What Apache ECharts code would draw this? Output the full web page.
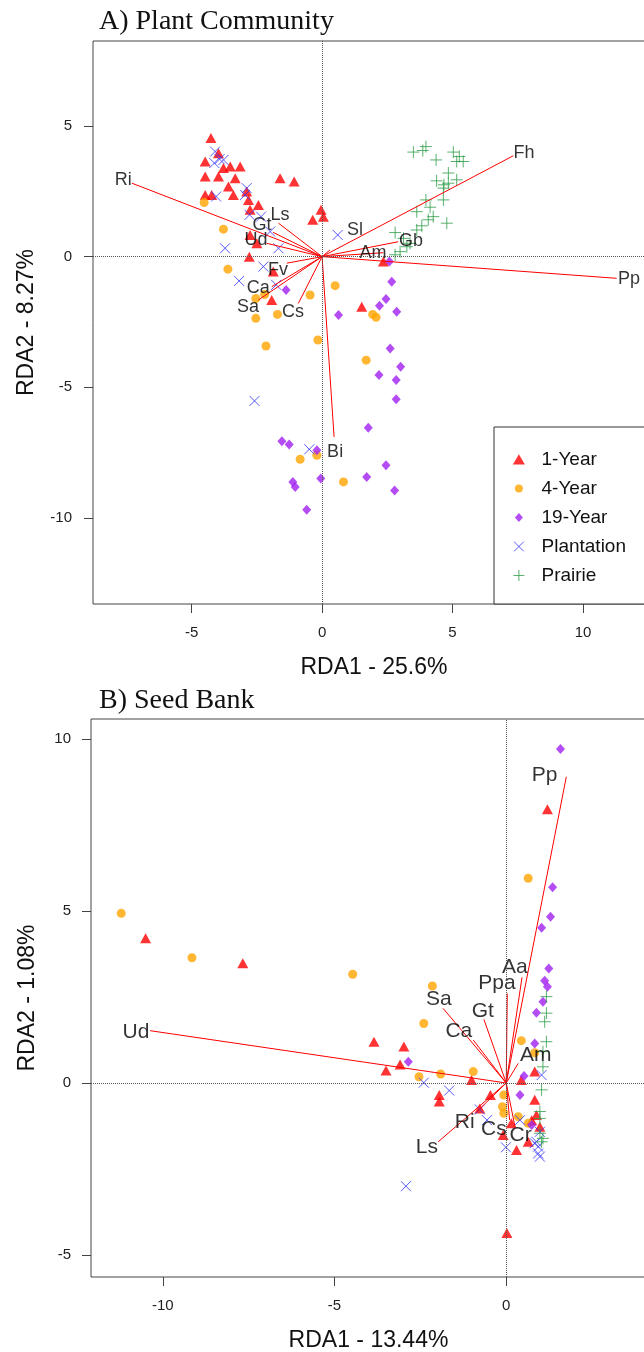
<!DOCTYPE html>
<html><head><meta charset="utf-8">
<script src="https://cdn.jsdelivr.net/npm/echarts@6/dist/echarts.min.js"></script>
<style>html,body{margin:0;padding:0;background:#fff}#c{width:644px;height:1352px}</style>
</head><body><div id="c"></div>
<script>
// ---------- Panel A: Plant Community ----------
const A_year1 = [[-4.26,4.54],[-3.97,3.96],[-4.48,3.64],[-3.78,3.39],[-3.52,3.45],[-3.14,3.45],[-3.97,3.07],[-3.33,3.0],[-4.48,3.07],[-3.59,2.68],[-4.48,2.36],[-4.23,2.36],[-3.4,2.36],[-2.89,2.49],[-2.82,2.17],[-2.44,1.98],[-2.76,1.79],[-1.61,3.0],[-1.07,2.87],[-0.04,1.79],[-0.36,1.41],[0.05,1.53],[-2.76,0.83],[-2.5,0.51],[-2.79,0.0],[-1.87,-0.57],[-1.93,-1.66],[2.35,-0.19],[1.52,-1.92]];
const A_year4 = [[-4.52,2.07],[-3.78,1.05],[-3.61,-0.48],[-2.54,-1.6],[-2.2,-1.45],[-2.54,-2.36],[-1.71,-2.21],[-2.15,-3.42],[-0.16,-3.19],[0.5,-1.11],[-0.46,-1.47],[1.94,-2.21],[2.07,-2.32],[1.69,-3.96],[-0.84,-7.75],[-0.2,-7.6],[0.82,-8.62]];
const A_year19 = [[2.58,-0.19],[2.67,-0.96],[2.45,-1.62],[2.2,-1.88],[2.86,-2.11],[0.63,-2.23],[-1.38,-1.28],[2.61,-3.51],[3.01,-4.21],[2.18,-4.53],[2.84,-4.72],[2.84,-5.46],[1.77,-6.55],[-1.54,-7.06],[-1.26,-7.19],[-0.2,-7.41],[-1.12,-8.62],[-1.03,-8.81],[-0.05,-8.49],[2.45,-7.98],[1.71,-8.43],[2.78,-8.95],[-0.59,-9.68]];
const A_plantation = [[-4.1,4.02],[-3.93,3.73],[-4.13,3.58],[-3.78,3.7],[-4.06,2.3],[-2.89,2.62],[-2.95,2.36],[-2.78,1.6],[-2.34,1.53],[-1.99,0.96],[-3.72,0.32],[-1.67,0.32],[-2.25,-0.38],[-3.18,-0.93],[-1.76,-1.08],[0.6,0.83],[-2.59,-5.52],[-0.49,-7.37]];
const A_prairie = [[3.5,4.0],[3.86,4.06],[3.98,4.21],[4.37,3.7],[5.03,4.0],[5.26,3.83],[5.41,3.64],[5.16,3.64],[4.84,3.2],[5.16,2.94],[4.39,2.9],[4.67,2.75],[4.65,2.62],[4.84,2.81],[4.65,2.17],[3.98,2.17],[4.14,1.89],[3.63,1.72],[4.26,1.53],[4.07,1.41],[4.78,1.28],[3.82,1.18],[3.63,1.02],[2.8,0.92],[3.12,0.7],[3.25,0.38],[2.99,0.19],[2.8,0.07],[3.37,0.51]];
const A_species = ['Ri','Ls','Gt','Ud','Fv','Ca','Sa','Cs','Sl','Fh','Gb','Am','Pp','Bi'];
const A_arrowTips = [[-7.29,2.81],[-1.67,1.28],[-1.88,0.93],[-2.12,0.51],[-1.35,-0.25],[-1.93,-1.15],[-2.44,-1.66],[-0.91,-1.79],[0.3,0.25],[7.33,3.86],[2.92,0.57],[2.35,0.15],[11.29,-0.83],[0.46,-6.9]];
const A_labelAt = [[-7.62,2.92],[-1.61,1.59],[-2.3,1.21],[-2.53,0.64],[-1.69,-0.51],[-2.45,-1.19],[-2.84,-1.93],[-1.11,-2.12],[1.26,1.02],[7.74,3.97],[3.41,0.6],[1.95,0.12],[11.76,-0.85],[0.5,-7.49]];
const A_xTicks = [-5,0,5,10];
const A_yTicks = [-10,-5,0,5];

// ---------- Panel B: Seed Bank ----------
const B_year1 = [[-10.5,4.21],[-7.67,3.48],[-3.85,1.2],[-2.98,1.06],[-3.09,0.54],[-3.5,0.36],[-1.95,-0.35],[-1.95,-0.54],[-1.01,0.09],[-0.46,-0.35],[-0.77,-0.74],[0.15,-1.17],[-0.09,-1.51],[0.3,-1.95],[0.44,0.09],[0.83,0.33],[0.83,-0.49],[0.88,-0.93],[0.74,-1.08],[0.98,-1.27],[0.64,-1.71],[1.2,7.96],[0.02,-4.36]];
const B_year4 = [[-11.21,4.93],[-9.15,3.64],[-4.47,3.16],[-2.15,2.82],[-2.4,1.73],[-1.91,0.26],[-2.54,0.18],[-0.96,0.33],[0.44,1.23],[0.83,0.88],[-0.07,-0.35],[-0.11,-0.69],[-0.07,-0.88],[0.35,-0.98],[0.64,-1.17],[0.64,5.95]];
const B_year19 = [[-2.85,0.62],[1.24,3.33],[1.12,2.97],[1.2,2.8],[1.07,2.36],[0.88,2.04],[0.83,1.15],[0.52,0.2],[0.4,-0.35],[0.74,-1.22],[1.58,9.71],[1.35,5.69],[1.29,4.83],[1.03,4.51]];
const B_plantation = [[-2.4,0.01],[-1.66,-0.22],[-0.77,-0.77],[-0.56,-1.08],[-0.01,-1.87],[0.4,-1.08],[0.98,-1.42],[0.88,-1.71],[0.93,-1.85],[0.93,-2.05],[0.98,-2.14],[0.83,-1.75],[1.03,0.23],[-2.92,-3.0]];
const B_prairie = [[1.17,2.51],[1.17,2.03],[1.12,1.78],[1.17,1.2],[1.07,0.91],[1.07,0.47],[1.03,-0.2],[0.98,-0.83],[0.98,-1.03],[0.98,-1.46],[1.03,-1.71],[1.07,-1.61]];
const B_species = ['Ud','Pp','Aa','Ppa','Gt','Sa','Ca','Am','Ri','Cs','Cr','Ls'];
const B_arrowTips = [[-10.37,1.52],[1.75,8.9],[0.46,3.07],[0.03,2.6],[-0.65,1.85],[-1.84,2.17],[-0.96,1.25],[0.35,0.57],[-0.85,-0.83],[0.1,-1.08],[0.25,-1.25],[-1.98,-1.71]];
const B_labelAt = [[-10.78,1.48],[1.12,8.95],[0.25,3.37],[-0.27,2.91],[-0.68,2.09],[-1.96,2.44],[-1.38,1.51],[0.86,0.81],[-1.21,-1.13],[-0.36,-1.34],[0.42,-1.51],[-2.31,-1.86]];
const B_xTicks = [-10,-5,0,5];
const B_yTicks = [-5,0,5,10];

const groupNames = ['1-Year','4-Year','19-Year','Plantation','Prairie'];

// ---------- styles ----------
const SANS = 'Liberation Sans';
const SERIF = 'Liberation Serif';
const COL = {red:'#ff0000', orange:'#ffa500', purple:'#a020f0', blue:'#3030ff', green:'#2e9e4a'};
const XPATH = 'path://M0 0L10 10M10 0L0 10';
const PLUSPATH = 'path://M5 0L5 10M0 5L10 5';
// legend icons: glyph drawn at the left of a 24x11 box
const LEG_TRI = 'path://M0 0M24 11M0.4 10.5L6.4 0.3L12.4 10.5Z';
const LEG_CIR = 'path://M0 0M24 11M10.4 5.5A4 4 0 1 1 2.4 5.5A4 4 0 1 1 10.4 5.5Z';
const LEG_DIA = 'path://M0 0M24 11M6.4 1L10.4 5.5L6.4 10L2.4 5.5Z';
const LEG_X = 'path://M0 0M24 11M1.6 0.7L11.2 10.3M11.2 0.7L1.6 10.3';
const LEG_PLUS = 'path://M0 0M24 11M6.4 0L6.4 11M0.9 5.5L11.9 5.5';

const groupStyle = [
  {symbol:'triangle', size:[11,10], itemStyle:{color:COL.red}},
  {symbol:'circle', size:9, itemStyle:{color:COL.orange}},
  {symbol:'diamond', size:[9,10], itemStyle:{color:COL.purple}},
  {symbol:XPATH, size:10, itemStyle:{color:'none', borderColor:COL.blue, borderWidth:1}},
  {symbol:PLUSPATH, size:12, itemStyle:{color:'none', borderColor:COL.green, borderWidth:1}}
];

function groupSeries(idx, datasets) {
  return datasets.map((d, i) => {
    const s = {
      type:'scatter', name:groupNames[i], xAxisIndex:idx, yAxisIndex:idx,
      data:d, symbol:groupStyle[i].symbol, symbolSize:groupStyle[i].size,
      itemStyle:groupStyle[i].itemStyle, z:2, silent:true
    };
    if (i === 0) {
      s.markLine = {
        silent:true, symbol:'none', animation:false, label:{show:false},
        lineStyle:{color:'#555', type:'dotted', width:1},
        data:[{xAxis:0},{yAxis:0}]
      };
    }
    return s;
  });
}
function arrowSeries(idx, tips) {
  return {
    type:'lines', coordinateSystem:'cartesian2d', xAxisIndex:idx, yAxisIndex:idx,
    data: tips.map(t => ({coords:[[0,0], t]})),
    lineStyle:{color:COL.red, width:1, opacity:1}, symbol:'none', z:3, silent:true
  };
}
function labelSeries(idx, names, pos, fs) {
  return {
    type:'scatter', xAxisIndex:idx, yAxisIndex:idx, symbolSize:1,
    itemStyle:{color:'transparent'}, z:4, silent:true,
    data: names.map((n, i) => ({name:n, value:pos[i]})),
    label:{show:true, position:'inside', formatter:'{b}', fontSize:fs, fontFamily:SANS, color:'#000'}
  };
}
function xAxisDef(idx, min, max, ticks, name, gap) {
  return {
    gridIndex:idx, type:'value', min:min, max:max,
    axisLine:{show:false, onZero:false}, splitLine:{show:false},
    axisTick:{show:true, length:9, lineStyle:{color:'#444'}, customValues:ticks},
    axisLabel:{customValues:ticks, margin:21, fontSize:15, color:'#222', fontFamily:SANS},
    name:name, nameLocation:'middle', nameGap:gap,
    nameTextStyle:{fontSize:23, color:'#111', fontFamily:SANS}
  };
}
function yAxisDef(idx, min, max, ticks, name, gap, margin) {
  return {
    gridIndex:idx, type:'value', min:min, max:max,
    axisLine:{show:false, onZero:false}, splitLine:{show:false},
    axisTick:{show:true, length:9, lineStyle:{color:'#444'}, customValues:ticks},
    axisLabel:{customValues:ticks, margin:margin, fontSize:15, color:'#222', fontFamily:SANS},
    name:name, nameLocation:'middle', nameGap:gap, nameRotate:90,
    nameTextStyle:{fontSize:23, color:'#111', fontFamily:SANS}
  };
}

const chart = echarts.init(document.getElementById('c'), null, {renderer:'canvas'});
chart.setOption({
  animation:false,
  backgroundColor:'#fff',
  title:[
    {text:'A) Plant Community', left:94, top:3, textStyle:{fontFamily:SERIF, fontSize:28, fontWeight:'normal', color:'#111'}},
    {text:'B) Seed Bank', left:94, top:682, textStyle:{fontFamily:SERIF, fontSize:28, fontWeight:'normal', color:'#111'}}
  ],
  grid:[
    {left:93, top:41, width:562, height:563, show:true, borderColor:'#444', borderWidth:1, backgroundColor:'transparent', outerBoundsMode:'none', containLabel:false},
    {left:91, top:719, width:555, height:558, show:true, borderColor:'#444', borderWidth:1, backgroundColor:'transparent', outerBoundsMode:'none', containLabel:false}
  ],
  xAxis:[
    xAxisDef(0, -8.78, 12.76, A_xTicks, 'RDA1 - 25.6%', 52),
    xAxisDef(1, -12.09, 4.07, B_xTicks, 'RDA1 - 13.44%', 52)
  ],
  yAxis:[
    yAxisDef(0, -13.29, 8.25, A_yTicks, 'RDA2 - 8.27%', 55, 21),
    yAxisDef(1, -5.64, 10.58, B_yTicks, 'RDA2 - 1.08%', 52, 20)
  ],
  legend:{
    orient:'vertical', left:494, top:427, width:200,
    padding:[23, 30, 19, 16], itemGap:10, itemWidth:24, itemHeight:11,
    borderColor:'#333', borderWidth:1, backgroundColor:'#fff', borderRadius:0,
    selectedMode:false,
    textStyle:{fontSize:19, lineHeight:19, fontFamily:SANS, color:'#111'},
    data:[
      {name:'1-Year', icon:LEG_TRI, itemStyle:{color:COL.red, borderWidth:0}},
      {name:'4-Year', icon:LEG_CIR, itemStyle:{color:COL.orange, borderWidth:0}},
      {name:'19-Year', icon:LEG_DIA, itemStyle:{color:COL.purple, borderWidth:0}},
      {name:'Plantation', icon:LEG_X, itemStyle:{color:'none', borderColor:COL.blue, borderWidth:1}},
      {name:'Prairie', icon:LEG_PLUS, itemStyle:{color:'none', borderColor:COL.green, borderWidth:1}}
    ]
  },
  series:[].concat(
    groupSeries(0, [A_year1, A_year4, A_year19, A_plantation, A_prairie]),
    [arrowSeries(0, A_arrowTips), labelSeries(0, A_species, A_labelAt, 18)],
    groupSeries(1, [B_year1, B_year4, B_year19, B_plantation, B_prairie]),
    [arrowSeries(1, B_arrowTips), labelSeries(1, B_species, B_labelAt, 21)]
  )
});
</script></body></html>
